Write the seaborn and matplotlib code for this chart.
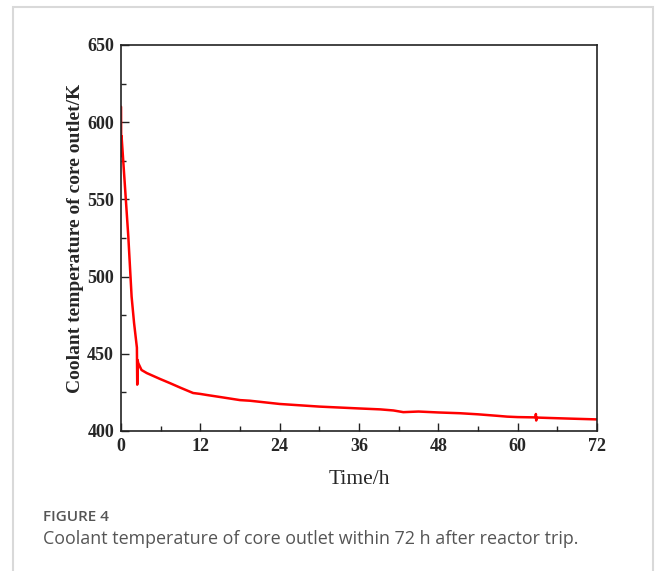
import numpy as np
import pandas as pd
import matplotlib
matplotlib.use("Agg")
import matplotlib.pyplot as plt
import seaborn as sns
from matplotlib.patches import Rectangle
from matplotlib.ticker import MultipleLocator

# tempo apos o desligamento (h) e temperatura na saida do nucleo (K)
tempo = [0.0, 0.03, 0.08, 0.6, 1.1, 1.6, 1.97, 2.4, 2.45, 2.5, 2.6, 3.1, 3.9,
         5.9, 7.4, 9.0, 10.9, 12.0, 13.0, 15.0, 18.0, 19.5, 24.0, 30.0, 36.0,
         39.2, 41.2, 42.7, 45.0, 48.0, 51.3, 54.0, 57.0, 58.4, 60.0, 62.7,
         62.75, 62.8, 62.85, 65.0, 68.0, 72.0]
temperatura = [610, 578, 591, 558, 526, 487, 470, 454, 430, 446, 444, 439.5,
               437.5, 433.7, 431, 428, 424.6, 424, 423.3, 422, 420, 419.6,
               417.5, 415.8, 414.6, 414.0, 413.3, 412.2, 412.6, 412.0, 411.5,
               410.8, 409.8, 409.3, 409.0, 408.8, 411.0, 406.8, 408.7, 408.4,
               408.0, 407.5]

titulo_fig = "FIGURE 4"
legenda = "Coolant temperature of core outlet within 72 h after reactor trip."

df = pd.DataFrame({"tempo": tempo, "temperatura": temperatura})

sns.set_style("ticks")
plt.rcParams["font.family"] = ["Liberation Serif", "DejaVu Serif"]

fig = plt.figure(figsize=(6.56, 5.71), dpi=100)
ax = fig.add_axes([0.1845, 0.2452, 0.7256, 0.676])

sns.lineplot(data=df, x="tempo", y="temperatura", sort=False, estimator=None,
             color="#ff0000", linewidth=1.8, ax=ax)

ax.set_xlim(0, 72)
ax.set_ylim(400, 650)
ax.xaxis.set_major_locator(MultipleLocator(12))
ax.xaxis.set_minor_locator(MultipleLocator(6))
ax.yaxis.set_major_locator(MultipleLocator(50))
ax.yaxis.set_minor_locator(MultipleLocator(25))
ax.tick_params(which="both", direction="in", top=False, right=False,
               color="#222222", width=1)
ax.tick_params(which="major", length=6, pad=5, labelsize=13)
ax.tick_params(which="minor", length=3.5)
for lab in ax.get_xticklabels() + ax.get_yticklabels():
    lab.set_fontweight("bold")

for lado in ["top", "right", "left", "bottom"]:
    ax.spines[lado].set_visible(True)
    ax.spines[lado].set_linewidth(1.2)
    ax.spines[lado].set_color("#222222")

ax.set_xlabel("Time/h", fontsize=15.5, labelpad=10.5)
ax.set_ylabel("Coolant temperature of core outlet/K", fontsize=14,
              fontweight="bold", labelpad=2.5)

# moldura cinza clara e legenda da figura
fig.patches.append(Rectangle((13 / 656, -0.05), 640 / 656, 1 - 7 / 571 + 0.05,
                             transform=fig.transFigure, fill=False,
                             edgecolor="#d9d9d9", linewidth=1.5))
fig.text(43 / 656, 1 - 517 / 571, titulo_fig, family="Open Sans",
         fontweight="semibold", fontsize=11, color="#555555", va="center")
fig.text(43 / 656, 1 - 539 / 571, legenda, family="Open Sans",
         fontsize=12.9, color="#555555", va="center")

fig.savefig("out.png", dpi=100)
